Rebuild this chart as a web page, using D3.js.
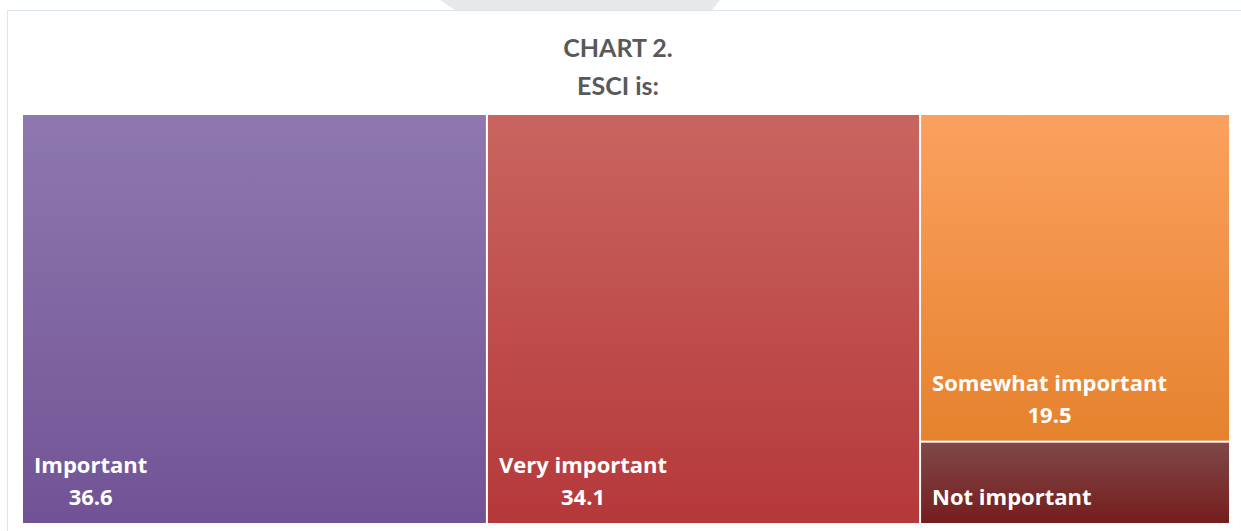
<!DOCTYPE html>
<html>
<head>
<meta charset="utf-8">
<script src="https://cdn.jsdelivr.net/npm/d3@7"></script>
<style>
	body { margin: 0; background: #fff; }
	svg text { font-weight: bold; }
	.title { font-family: Lato, "Open Sans", sans-serif; }
	.cell-label { font-family: "Open Sans", Lato, sans-serif; }
</style>
</head>
<body>
<div id="chart"></div>
<script>

// chart data
var categories = ["Important", "Very important", "Somewhat important", "Not important"];
var values = [36.6, 34.1, 19.5, 4.9];
var showValue = [true, true, true, false];
var topColors = ["#8e78af", "#c96560", "#fba15f", "#804848"];
var bottomColors = ["#715395", "#b5383a", "#e5822d", "#751d1d"];

var width = 1241, height = 531;

var svg = d3.select("#chart").append("svg")
	.attr("width", width)
	.attr("height", height);

// grey tab at the top
svg.append("path")
	.attr("d", "M440,0 L720,0 L712,10 L455,10 Z")
	.attr("fill", "#e8e8ea");

// frame
svg.append("rect")
	.attr("x", 7.5)
	.attr("y", 10.5)
	.attr("width", 1240)
	.attr("height", 530)
	.attr("fill", "#fff")
	.attr("stroke", "#dbe5ef");

// titles
svg.append("text")
	.attr("class", "title")
	.attr("x", 618)
	.attr("y", 57)
	.attr("text-anchor", "middle")
	.attr("font-size", 25)
	.attr("fill", "#595959")
	.text("CHART 2.");

svg.append("text")
	.attr("class", "title")
	.attr("x", 618)
	.attr("y", 95)
	.attr("text-anchor", "middle")
	.attr("font-size", 25)
	.attr("fill", "#595959")
	.text("ESCI is:");

// gradients
var defs = svg.append("defs");
categories.forEach(function(c, i) {
	var g = defs.append("linearGradient")
		.attr("id", "grad" + i)
		.attr("x1", 0).attr("y1", 0)
		.attr("x2", 0).attr("y2", 1);
	g.append("stop").attr("offset", "0%").attr("stop-color", topColors[i]);
	g.append("stop").attr("offset", "100%").attr("stop-color", bottomColors[i]);
});

// treemap layout
var data = categories.map(function(c, i) {
	return { name: c, value: values[i], index: i };
});

var root = d3.hierarchy({ children: data })
	.sum(function(d) { return d.value; });

d3.treemap()
	.tile(d3.treemapSquarify)
	.size([1206, 408])
	.paddingInner(2)
	(root);

var cells = svg.append("g")
	.attr("transform", "translate(23,115)")
	.selectAll("g")
	.data(root.leaves())
	.enter()
	.append("g")
	.attr("transform", function(d) {
		return "translate(" + d.x0 + "," + d.y0 + ")";
	});

cells.append("rect")
	.attr("width", function(d) { return d.x1 - d.x0; })
	.attr("height", function(d) { return d.y1 - d.y0; })
	.attr("fill", function(d) { return "url(#grad" + d.data.index + ")"; });

// labels
cells.each(function(d) {
	var g = d3.select(this);
	var h = d.y1 - d.y0;
	var hasValue = showValue[d.data.index];
	var label = g.append("text")
		.attr("class", "cell-label")
		.attr("x", 11)
		.attr("y", hasValue ? h - 50 : h - 18)
		.attr("font-size", 22)
		.attr("fill", "#fff")
		.text(d.data.name);
	if (hasValue) {
		var w = label.node().getComputedTextLength();
		g.append("text")
			.attr("class", "cell-label")
			.attr("x", 11 + w / 2)
			.attr("y", h - 18)
			.attr("text-anchor", "middle")
			.attr("font-size", 22)
			.attr("fill", "#fff")
			.text(d3.format(".1f")(d.data.value));
	}
});

</script>
</body>
</html>
